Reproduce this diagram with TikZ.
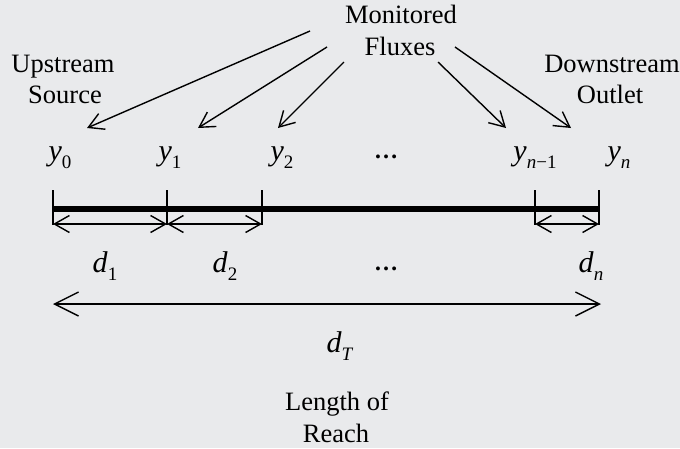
\documentclass[tikz,border=0pt]{standalone}
\usepackage{fontspec}
\setmainfont{Liberation Serif}
\usetikzlibrary{arrows.meta}
\definecolor{bg}{HTML}{E9EAEC}
\newcommand{\vsub}[2]{{\fontsize{30}{30}\selectfont\textit{#1}}\raisebox{-8pt}{\fontsize{19}{19}\selectfont #2}}
\tikzset{
  lbl/.style={inner sep=0pt, anchor=base, font=\fontsize{26.5}{32}\selectfont},
  fa/.style={-{Straight Barb[length=15pt,width=17pt]}, line width=1.4pt},
  da/.style={{Straight Barb[length=15pt,width=17pt]}-{Straight Barb[length=15pt,width=17pt]}, line width=1.4pt},
  la/.style={{Straight Barb[length=24pt,width=24pt]}-{Straight Barb[length=24pt,width=24pt]}, line width=1.4pt},
  tick/.style={line width=1.4pt},
  bar/.style={line width=6.5pt},
  dots/.style={inner sep=0pt, anchor=base, font=\fontsize{24}{24}\selectfont\bfseries}
}
\begin{document}
\begin{tikzpicture}[x=1pt,y=-1pt]
\fill[bg] (0,0) rectangle (680,448);
\useasboundingbox (0,0) rectangle (680,448);
% labels
\node[lbl] (mon1) at (401,23) {Monitored};
\node[lbl] (mon2) at (400,55) {Fluxes};
\node[lbl] (up1) at (63,72) {Upstream};
\node[lbl] (up2) at (65,103) {Source};
\node[lbl] (dn1) at (612,72) {Downstream};
\node[lbl] (dn2) at (610,103) {Outlet};
% y labels
\node[lbl] (y0) at (60,160) {\vsub{y}{0}};
\node[lbl] (y1) at (170,160) {\vsub{y}{1}};
\node[lbl] (y2) at (282,160) {\vsub{y}{2}};
\node[dots] (ydots) at (386,158) {…};
\node[lbl] (yn1) at (535,160) {\vsub{y}{\textit{n}−1}};
\node[lbl] (yn) at (619,160) {\vsub{y}{\textit{n}}};
% d labels
\node[lbl] (d1) at (105,272) {\vsub{d}{1}};
\node[lbl] (d2) at (225,272) {\vsub{d}{2}};
\node[dots] (ddots) at (386,270) {…};
\node[lbl] (dn) at (591,272) {\vsub{d}{\textit{n}}};
\node[lbl] (dT) at (340,352) {\vsub{d}{\textit{T}}};
\node[lbl] (len1) at (337,410) {Length of};
\node[lbl] (len2) at (336,442) {Reach};
% flux arrows
\coordinate (s1) at (310,31);  \coordinate (e1) at (87,128);
\coordinate (s2) at (327,47);  \coordinate (e2) at (198,128);
\coordinate (s3) at (344,62);  \coordinate (e3) at (278,128);
\coordinate (s4) at (438,62);  \coordinate (e4) at (506,128);
\coordinate (s5) at (455,47);  \coordinate (e5) at (571,128);
\draw[fa] (s1) -- (e1);
\draw[fa] (s2) -- (e2);
\draw[fa] (s3) -- (e3);
\draw[fa] (s4) -- (e4);
\draw[fa] (s5) -- (e5);
% reach bar and ticks
\coordinate (t0) at (53,190);  \coordinate (b0) at (53,225);
\coordinate (t1) at (167,190); \coordinate (b1) at (167,225);
\coordinate (t2) at (262,190); \coordinate (b2) at (262,225);
\coordinate (t3) at (535,190); \coordinate (b3) at (535,225);
\coordinate (t4) at (599,190); \coordinate (b4) at (599,225);
\coordinate (m0) at (53,209);  \coordinate (m4) at (599,209);
\draw[bar] (m0) -- (m4);
\foreach \i in {0,...,4} \draw[tick] (t\i) -- (b\i);
\coordinate (a0) at (53,224); \coordinate (a1) at (167,224);
\coordinate (a2) at (262,224); \coordinate (a3) at (535,224);
\coordinate (a4) at (599,224);
\draw[da] (a0) -- (a1);
\draw[da] (a1) -- (a2);
\draw[da] (a3) -- (a4);
% total length
\coordinate (L0) at (53,304); \coordinate (L1) at (601,304);
\draw[la] (L0) -- (L1);
\end{tikzpicture}
\end{document}
